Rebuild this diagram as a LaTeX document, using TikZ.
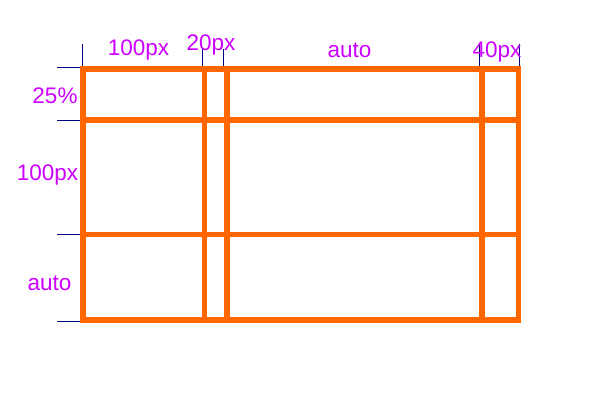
\documentclass[tikz,border=0pt]{standalone}
\usepackage{fontspec}
\setmainfont{Liberation Sans}
\usetikzlibrary{positioning}
\definecolor{trackorange}{HTML}{FF6600}
\definecolor{sizepink}{HTML}{CC00FF}
\definecolor{guidenavy}{HTML}{000080}

\begin{document}
\begin{tikzpicture}[x=1pt, y=-1pt,
    trackline/.style={line width=5.5pt, trackorange},
    guideline/.style={line width=1pt, guidenavy},
    sizelabel/.style={sizepink, font=\fontsize{22.5}{26}\selectfont, inner sep=0pt, anchor=base}]
    \useasboundingbox (0,0) rectangle (600,400);

    % Column guides
    \draw[guideline] (82,44) -- (82,66);
    \draw[guideline] (202.5,49) -- (202.5,66);
    \draw[guideline] (223.5,49) -- (223.5,66);
    \draw[guideline] (479,44) -- (479,66);
    \draw[guideline] (519,44) -- (519,66);

    % Row guides
    \draw[guideline] (57,67) -- (81,67);
    \draw[guideline] (57,120) -- (81,120);
    \draw[guideline] (57,234) -- (81,234);
    \draw[guideline] (57,321) -- (81,321);

    % Grid tracks
    \draw[trackline] (83,69) rectangle (518.5,320);
    \draw[trackline] (83,120) -- (518.5,120);
    \draw[trackline] (83,234.5) -- (518.5,234.5);
    \draw[trackline] (204.5,69) -- (204.5,320);
    \draw[trackline] (227,69) -- (227,320);
    \draw[trackline] (482,69) -- (482,320);

    % Column sizes
    \node[sizelabel] (col1) at (138.5,55) {100px};
    \node[sizelabel] (col2) at (211,50) {20px};
    \node[sizelabel] (col3) at (349.5,57) {auto};
    \node[sizelabel] (col4) at (497,57) {40px};

    % Row sizes
    \node[sizelabel] (row1) at (55,103) {25\%};
    \node[sizelabel] (row2) at (47.5,180) {100px};
    \node[sizelabel] (row3) at (49.5,290) {auto};
\end{tikzpicture}
\end{document}
